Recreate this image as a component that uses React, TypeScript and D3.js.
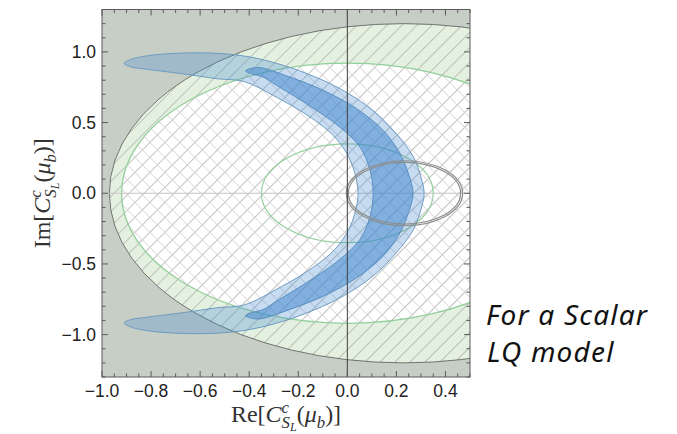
import React from "react";
import * as d3 from "d3";

// Plot window (Wilson coefficient plane)
const RE_DOMAIN = [-1.0, 0.5];
const IM_DOMAIN = [-1.3, 1.3];

// Tick labels
const RE_TICKS = [-1.0, -0.8, -0.6, -0.4, -0.2, 0.0, 0.2, 0.4];
const IM_TICKS = [-1.0, -0.5, 0.0, 0.5, 1.0];

// Circular constraint contours: [centre Re, radius]
const OUTER_CONTOUR = [0.23, 1.2];
const INNER_CONTOUR = [0.0, 0.92];
const SMALL_CONTOUR = [0.0, 0.35];
// Grey double ring: centre Re, semi-axes (Re, Im) of both rings
const GREY_RING_CENTER = 0.233;
const GREY_RING_RX = [0.229, 0.237];
const GREY_RING_RY = [0.218, 0.23];

// Allowed region, 2 sigma (outer light band) — closed contour [Re, Im]
const BAND_2SIGMA: [number, number][] = [
  [-0.91, 0.918], [-0.885, 0.945], [-0.84, 0.965], [-0.78, 0.98], [-0.67, 0.992], [-0.53, 0.99],
  [-0.4, 0.965], [-0.29, 0.92], [-0.17, 0.85], [-0.03, 0.74], [0.105, 0.585],
  [0.2, 0.42], [0.27, 0.255], [0.304, 0.09], [0.313, 0.0],
  [0.304, -0.09], [0.27, -0.255], [0.2, -0.42], [0.105, -0.585], [-0.03, -0.74],
  [-0.17, -0.85], [-0.29, -0.92], [-0.4, -0.965], [-0.53, -0.99], [-0.67, -0.992],
  [-0.78, -0.98], [-0.84, -0.965], [-0.885, -0.945], [-0.91, -0.918],
  [-0.885, -0.895], [-0.83, -0.88], [-0.67, -0.845], [-0.53, -0.81], [-0.42, -0.79], [-0.3, -0.69],
  [-0.17, -0.56], [-0.07, -0.43], [-0.02, -0.33], [0.02, -0.2], [0.044, 0.0],
  [0.02, 0.2], [-0.02, 0.33], [-0.07, 0.43], [-0.17, 0.56], [-0.3, 0.69],
  [-0.42, 0.79], [-0.53, 0.81], [-0.67, 0.845], [-0.83, 0.88], [-0.885, 0.895],
];

// Allowed region, 1 sigma (inner dark band)
const BAND_1SIGMA: [number, number][] = [
  [-0.415, 0.866], [-0.39, 0.884], [-0.356, 0.889], [-0.234, 0.822], [-0.098, 0.728], [0.038, 0.598],
  [0.147, 0.443], [0.215, 0.279], [0.249, 0.137], [0.268, 0.0],
  [0.249, -0.137], [0.215, -0.279], [0.147, -0.443], [0.038, -0.598], [-0.098, -0.728],
  [-0.234, -0.822], [-0.356, -0.889], [-0.39, -0.884], [-0.415, -0.866],
  [-0.39, -0.845], [-0.34, -0.82], [-0.29, -0.765], [-0.166, -0.632], [-0.03, -0.467], [0.052, -0.325],
  [0.093, -0.16], [0.105, 0.0],
  [0.093, 0.16], [0.052, 0.325], [-0.03, 0.467], [-0.166, 0.632], [-0.29, 0.765],
  [-0.34, 0.82], [-0.39, 0.845],
];

const W = 677;
const H = 434;
const LEFT = 102;
const RIGHT = 470;
const TOP = 9.5;
const BOTTOM = 377;

const TITLE_SIZE = 24;

function MathTitle({ head, size }: { head: string; size: number }) {
  const sup = size * 0.7;
  const sub2 = size * 0.5;
  return (
    <>
      <tspan>{head}[</tspan>
      <tspan fontStyle="italic">C</tspan>
      <tspan fontSize={sup} fontStyle="italic" dy={-size * 0.38}>c</tspan>
      <tspan fontSize={sup} fontStyle="italic" dx={-sup * 0.44} dy={size * 0.38 + size * 0.24}>S</tspan>
      <tspan fontSize={sub2} fontStyle="italic" dy={size * 0.12}>L</tspan>
      <tspan fontSize={size} dy={-size * 0.36}>(</tspan>
      <tspan fontStyle="italic">μ</tspan>
      <tspan fontSize={sup} fontStyle="italic" dy={size * 0.24}>b</tspan>
      <tspan fontSize={size} dy={-size * 0.24}>)]</tspan>
    </>
  );
}

export default function App() {
  const x = d3.scaleLinear().domain(RE_DOMAIN).range([LEFT, RIGHT]);
  const y = d3.scaleLinear().domain(IM_DOMAIN).range([BOTTOM, TOP]);

  const ellipse = (cx: number, rRe: number, rIm: number) => ({
    cx: x(cx),
    cy: y(0),
    rx: x(cx + rRe) - x(cx),
    ry: y(0) - y(rIm),
  });

  const outer = ellipse(OUTER_CONTOUR[0], OUTER_CONTOUR[1], OUTER_CONTOUR[1]);
  const inner = ellipse(INNER_CONTOUR[0], INNER_CONTOUR[1], INNER_CONTOUR[1]);
  const small = ellipse(SMALL_CONTOUR[0], SMALL_CONTOUR[1], SMALL_CONTOUR[1]);

  const contour = d3
    .line<[number, number]>()
    .x((d) => x(d[0]))
    .y((d) => y(d[1]))
    .curve(d3.curveCatmullRomClosed.alpha(0.5));

  const fmt = d3.format(".1f");
  const reMinor = d3.range(-1.0, 0.5001, 0.05);
  const imMinor = d3.range(-1.3, 1.3001, 0.1);
  const isMajor = (v: number, step: number) => Math.abs(v / step - Math.round(v / step)) < 1e-6;

  const hatch = 10.6;
  const frame = "#5a5a5a";

  return (
    <svg width={W} height={H} style={{ position: "absolute", left: 0, top: 0, background: "#fff" }}>
      <defs>
        <clipPath id="plotClip">
          <rect x={LEFT} y={TOP} width={RIGHT - LEFT} height={BOTTOM - TOP} />
        </clipPath>
        <pattern id="hatchFwd" width={hatch} height={hatch} patternUnits="userSpaceOnUse" patternTransform="rotate(45)">
          <line x1={hatch / 2} y1={0} x2={hatch / 2} y2={hatch} stroke="#b0b5b0" strokeWidth={0.8} />
        </pattern>
        <pattern id="hatchBack" width={hatch} height={hatch} patternUnits="userSpaceOnUse" patternTransform="rotate(-45)">
          <line x1={hatch / 2} y1={0} x2={hatch / 2} y2={hatch} stroke="#d8d0d8" strokeWidth={0.8} />
        </pattern>
      </defs>

      <g clipPath="url(#plotClip)">
        <rect x={LEFT} y={TOP} width={RIGHT - LEFT} height={BOTTOM - TOP} fill="#c7cec6" />
        <ellipse {...outer} fill="#e4f1e0" />
        <ellipse {...outer} fill="url(#hatchFwd)" />
        <ellipse {...inner} fill="#ffffff" />
        <ellipse {...inner} fill="url(#hatchFwd)" />
        <ellipse {...inner} fill="url(#hatchBack)" />
        <ellipse {...outer} fill="none" stroke="#6e746e" strokeWidth={1} />
        <ellipse {...inner} fill="none" stroke="#93cf9b" strokeWidth={1.3} />
        <ellipse {...small} fill="none" stroke="#93cf9b" strokeWidth={1.2} />
        <line x1={LEFT} x2={RIGHT} y1={y(0)} y2={y(0)} stroke="#c4c4c4" strokeWidth={1} />

        <path d={contour(BAND_2SIGMA) ?? ""} fill="rgb(70,140,210)" fillOpacity={0.3} stroke="#6d9cc2" strokeWidth={1} />
        <path d={contour(BAND_1SIGMA) ?? ""} fill="rgb(60,132,205)" fillOpacity={0.5} stroke="#5a8fc2" strokeWidth={1} />

        {GREY_RING_RX.map((rx, i) => (
          <ellipse key={i} {...ellipse(GREY_RING_CENTER, rx, GREY_RING_RY[i])} fill="none" stroke="#8d8d8d" strokeWidth={1.2} />
        ))}
        <line x1={x(0)} x2={x(0)} y1={TOP} y2={BOTTOM} stroke="#3f3f3f" strokeWidth={1} />
      </g>

      {/* frame ticks, mirrored on all sides */}
      <g stroke={frame} strokeWidth={1}>
        {reMinor.map((v, i) => {
          const len = isMajor(v, 0.2) ? 6 : 3.5;
          return (
            <g key={"rx" + i}>
              <line x1={x(v)} x2={x(v)} y1={BOTTOM} y2={BOTTOM - len} />
              <line x1={x(v)} x2={x(v)} y1={TOP} y2={TOP + len} />
            </g>
          );
        })}
        {imMinor.map((v, i) => {
          const len = isMajor(v, 0.5) ? 6 : 3.5;
          return (
            <g key={"iy" + i}>
              <line x1={LEFT} x2={LEFT + len} y1={y(v)} y2={y(v)} />
              <line x1={RIGHT} x2={RIGHT - len} y1={y(v)} y2={y(v)} />
            </g>
          );
        })}
        <rect x={LEFT} y={TOP} width={RIGHT - LEFT} height={BOTTOM - TOP} fill="none" />
      </g>

      <g fontFamily="'Liberation Sans', Arial, sans-serif" fontSize={17.5} fill="#222">
        {RE_TICKS.map((v) => (
          <text key={"xl" + v} x={x(v)} y={397} textAnchor="middle">{fmt(v)}</text>
        ))}
        {IM_TICKS.map((v) => (
          <text key={"yl" + v} x={96} y={y(v)} dy="0.35em" textAnchor="end">{fmt(v)}</text>
        ))}
      </g>

      <g fontFamily="'Liberation Serif', 'Times New Roman', serif" fontSize={TITLE_SIZE} fill="#333">
        <text x={(LEFT + RIGHT) / 2} y={422} textAnchor="middle">
          <MathTitle head="Re" size={TITLE_SIZE} />
        </text>
        <text transform={`translate(50,${(TOP + BOTTOM) / 2}) rotate(-90)`} textAnchor="middle">
          <MathTitle head="Im" size={TITLE_SIZE} />
        </text>
      </g>

      <g fontFamily="'Noto Sans', 'Open Sans', sans-serif" fontStyle="italic" fontSize={28} fill="#111" letterSpacing={1.2}>
        <text x={486} y={325}>For a Scalar</text>
        <text x={487} y={361.5}>LQ model</text>
      </g>
    </svg>
  );
}
